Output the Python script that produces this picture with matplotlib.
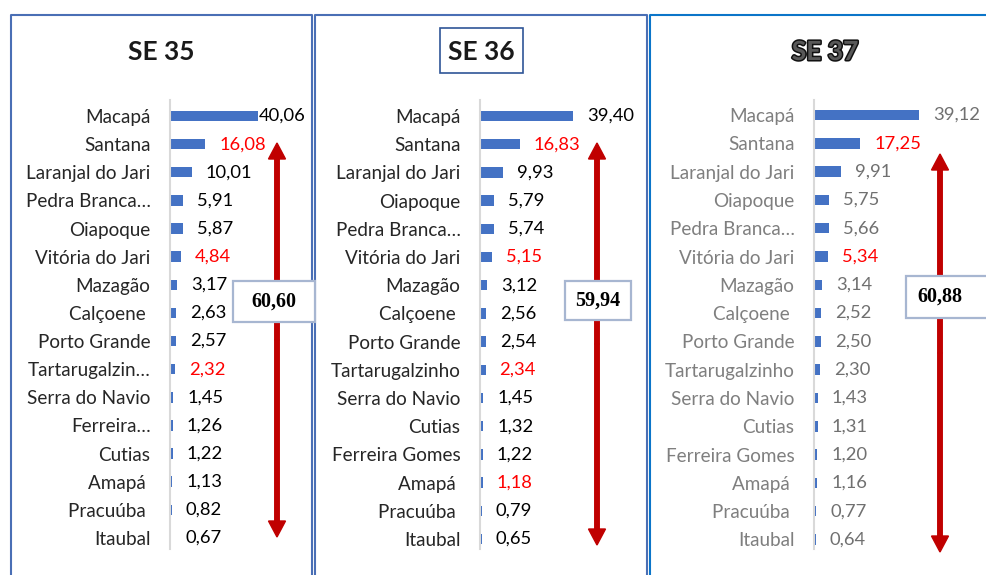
import matplotlib.pyplot as plt
import matplotlib.patheffects as pe
from matplotlib.patches import Rectangle

# data
titles = ["SE 35", "SE 36", "SE 37"]

names35 = ["Macapá", "Santana", "Laranjal do Jari", "Pedra Branca…", "Oiapoque",
           "Vitória do Jari", "Mazagão", "Calçoene ", "Porto Grande", "Tartarugalzin…",
           "Serra do Navio", "Ferreira…", "Cutias", "Amapá ", "Pracuúba ", "Itaubal"]
vals35 = [40.06, 16.08, 10.01, 5.91, 5.87, 4.84, 3.17, 2.63, 2.57, 2.32,
          1.45, 1.26, 1.22, 1.13, 0.82, 0.67]

names36 = ["Macapá", "Santana", "Laranjal do Jari", "Oiapoque", "Pedra Branca…",
           "Vitória do Jari", "Mazagão", "Calçoene ", "Porto Grande", "Tartarugalzinho",
           "Serra do Navio", "Cutias", "Ferreira Gomes", "Amapá ", "Pracuúba ", "Itaubal"]
vals36 = [39.40, 16.83, 9.93, 5.79, 5.74, 5.15, 3.12, 2.56, 2.54, 2.34,
          1.45, 1.32, 1.22, 1.18, 0.79, 0.65]

names37 = ["Macapá", "Santana", "Laranjal do Jari", "Oiapoque", "Pedra Branca…",
           "Vitória do Jari", "Mazagão", "Calçoene ", "Porto Grande", "Tartarugalzinho",
           "Serra do Navio", "Cutias", "Ferreira Gomes", "Amapá ", "Pracuúba ", "Itaubal"]
vals37 = [39.12, 17.25, 9.91, 5.75, 5.66, 5.34, 3.14, 2.52, 2.50, 2.30,
          1.43, 1.31, 1.20, 1.16, 0.77, 0.64]

red35 = ["Santana", "Vitória do Jari", "Tartarugalzin…"]
red36 = ["Santana", "Vitória do Jari", "Tartarugalzinho", "Amapá "]
red37 = ["Santana", "Vitória do Jari"]

totals = [60.60, 59.94, 60.88]

names = [names35, names36, names37]
vals = [vals35, vals36, vals37]
reds = [red35, red36, red37]

W, H = 987, 575
fig = plt.figure(figsize=(W / 100, H / 100), dpi=100)
plt.rcParams['font.family'] = ['Lato', 'DejaVu Sans']

def fx(px):
    return px / W

def fy(py):
    return 1 - py / H

# per panel: axis x (px), px per unit, first row y, row step
axis_x = [170, 480, 814]
scale = [2.197, 2.36, 2.68]
row0 = [116, 116, 115]
step = [28.13, 28.2, 28.3]
lab_col = ["#262626", "#262626", "#7f7f7f"]
val_col = ["black", "black", "#707070"]

for p in range(3):
    top, bot = 100, 549
    width = 130
    ax = fig.add_axes([fx(axis_x[p]), fy(bot), width / W, (bot - top) / H])
    n = len(vals[p])
    ys = list(range(n))
    ax.barh(ys, vals[p], height=0.37, color="#4472C4")
    ax.set_xlim(0, width / scale[p])
    ax.set_ylim((bot - row0[p]) / step[p], (top - row0[p]) / step[p])
    for s in ["top", "right", "bottom"]:
        ax.spines[s].set_visible(False)
    ax.spines["left"].set_color("#d9d9d9")
    ax.spines["left"].set_linewidth(1.5)
    ax.set_xticks([])
    ax.set_yticks(ys)
    ax.set_yticklabels(names[p], fontsize=13.6, color=lab_col[p])
    ax.tick_params(axis="y", length=0, pad=14)
    ax.patch.set_alpha(0)
    for i, v in enumerate(vals[p]):
        off = 1 if (p == 0 and i == 0) else 14
        c = "#FF0000" if names[p][i] in reds[p] else val_col[p]
        ax.annotate(f"{v:.2f}".replace(".", ","), (v, i), xytext=(off * 0.72, 0),
                    textcoords="offset points", ha="left", va="center",
                    fontsize=13.2, color=c)

# overlay in pixel coordinates
ov = fig.add_axes([0, 0, 1, 1], zorder=5)
ov.set_xlim(0, W)
ov.set_ylim(H, 0)
ov.axis("off")

# panel borders
ov.plot([10.5, 10.5, 311.5, 311.5], [H + 5, 14.5, 14.5, H + 5], color="#4a6fb5", lw=1.5)
ov.plot([315, 315, 646.5, 646.5], [H + 5, 14.5, 14.5, H + 5], color="#4a6fb5", lw=1.5)
ov.plot([649.5, 649.5, W + 5], [H + 5, 14.5, 14.5], color="#0b75c9", lw=1.5)

# titles
ov.text(161, 52, titles[0], fontsize=19, fontweight="bold", ha="center", va="center", color="#1a1a1a")
ov.text(481, 52, titles[1], fontsize=19, fontweight="bold", ha="center", va="center", color="#1a1a1a")
ov.add_patch(Rectangle((440, 28), 83, 45, fill=False, edgecolor="#2F5597", lw=1.2))
ov.text(825, 52, titles[2], fontsize=19, fontweight="bold", ha="center", va="center", color="#595959",
        path_effects=[pe.withStroke(linewidth=2.2, foreground="#111111")])

# double arrows and total boxes
arrow_x = [277, 597, 940]
arrow_top = [143, 143, 154]
arrow_bot = [537, 545, 552]
box_x = [233, 565, 906]
box_y = [281, 281, 276]
box_w = [82, 66, 100]
box_h = [41, 39, 42]
for p in range(3):
    mid = (arrow_top[p] + arrow_bot[p]) / 2
    for end in [arrow_top[p], arrow_bot[p]]:
        ov.arrow(arrow_x[p], mid, 0, end - mid, width=4.5, head_width=17, head_length=16,
                 length_includes_head=True, color="#C00000", zorder=2)
    ov.add_patch(Rectangle((box_x[p], box_y[p]), box_w[p], box_h[p], facecolor="white",
                           edgecolor="#a7b6d1", lw=1.6, zorder=3))
    tx = box_x[p] + box_w[p] / 2 if p < 2 else 940
    ov.text(tx, box_y[p] + box_h[p] / 2, f"{totals[p]:.2f}".replace(".", ","),
            family="Liberation Serif", fontweight="bold", fontsize=14.5,
            ha="center", va="center", color="black", zorder=4)

fig.savefig("out.png", dpi=100)
